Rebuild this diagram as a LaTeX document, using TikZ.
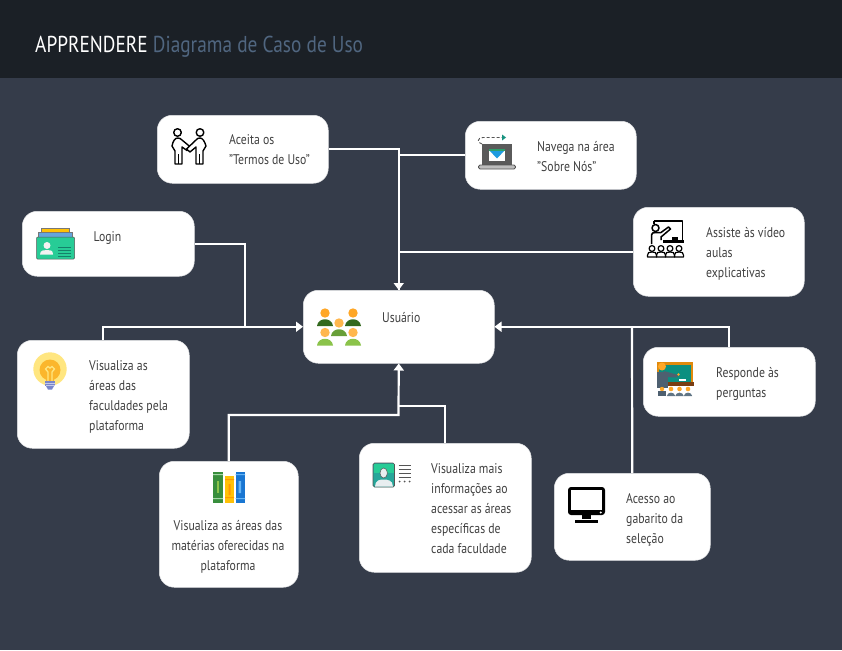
\documentclass[tikz,border=0pt]{standalone}
\usepackage{fontspec}
\setmainfont[FakeStretch=0.84]{PT Sans}
\usetikzlibrary{arrows.meta}
\definecolor{pagebg}{HTML}{353C4A}
\definecolor{headbg}{HTML}{1B2026}
\definecolor{subttl}{HTML}{506680}
\definecolor{txt}{HTML}{404040}
\newcommand{\defhex}[1]{\definecolor{c#1}{HTML}{#1}}
\defhex{5A5A5A}\defhex{1E9BE0}\defhex{2E9E6B}\defhex{555555}\defhex{BDBDBD}\defhex{17937F}\defhex{777777}
\defhex{FFC107}\defhex{64A5DC}\defhex{27CC96}\defhex{F2F2F2}\defhex{14806A}\defhex{FFA726}\defhex{33691E}
\defhex{FFB74D}\defhex{689F38}\defhex{8BC34A}\defhex{FFE680}\defhex{FBB62C}\defhex{7986CB}\defhex{C5CAE9}
\defhex{388E3C}\defhex{A5D6A7}\defhex{FF9800}\defhex{1976D2}\defhex{64B5F6}\defhex{26A69A}\defhex{E8EEF0}
\defhex{E08A0C}\defhex{0B8F80}\defhex{7A3E12}\defhex{4E6070}\defhex{607585}
\tikzset{
  x=1pt,y=-1pt,
  card/.style={draw=white!85!pagebg,line width=.5pt,fill=white,rounded corners=15pt,inner sep=0pt,anchor=north west},
  lbl/.style={text=txt,font=\fontsize{14}{20}\selectfont,align=left,anchor=north west,inner sep=0pt},
  clbl/.style={text=txt,font=\fontsize{14}{20}\selectfont,align=center,anchor=north,inner sep=0pt},
  link/.style={draw=white,line width=2.2pt,rounded corners=0pt},
  arrowlink/.style={link,-{Triangle[width=10pt,length=7pt]}},
}
\newcommand{\cardat}[5]{\node[card,minimum width=#4pt,minimum height=#5pt] (#1) at (#2,#3) {};}
\begin{document}
\begin{tikzpicture}
\useasboundingbox (0,0) rectangle (842,650);
\fill[pagebg] (0,0) rectangle (842,650);
\fill[headbg] (0,0) rectangle (842,78);
\node[anchor=base west,inner sep=0pt,font=\fontsize{23}{26}\selectfont] (title) at (35,53) {\textcolor{white}{APPRENDERE} \textcolor{subttl}{Diagrama de Caso de Uso}};

\coordinate (jlogin) at (245,326);
\coordinate (jmat) at (398.5,415);
\coordinate (jmais) at (398.5,406);
\coordinate (jac) at (632,326);

\cardat{termos}{157}{115}{171}{68}
\cardat{navega}{465}{121}{171}{68}
\cardat{assiste}{633}{207}{171}{89}
\cardat{login}{22}{211}{172}{65}
\cardat{user}{303}{290}{191}{73}
\cardat{visual}{17}{340}{172}{108}
\cardat{mater}{159}{461}{139}{126}
\cardat{mais}{359}{443}{172}{129}
\cardat{acesso}{554}{473}{156}{87}
\cardat{resp}{643}{347}{172}{69}

% connectors
\draw[link] (navega.west) -| (user.north);
\draw[link] (assiste.west) -| (user.north);
\draw[arrowlink] (termos.east) -| (user.north);
\draw[link] (login.east) -| (jlogin);
\draw[arrowlink] (visual.north) |- (user.west);
\draw[link] (mais.north) |- (jmais);
\draw[arrowlink] (mater.north) |- (jmat) -- (user.south);
\draw[link] (acesso.north) -- (jac);
\draw[arrowlink] (resp.north) |- (user.east);

% labels
\node[lbl] (t1) at (229,134.5) {Aceita os\\"Termos de Uso"};
\node[lbl] (t2) at (537,141) {Navega na área\\"Sobre Nós"};
\node[lbl] (t3) at (706,227) {Assiste às vídeo\\aulas\\explicativas};
\node[lbl] (t4) at (93.5,231) {Login};
\node[lbl] (t5) at (382,312) {Usuário};
\node[lbl] (t6) at (89,360) {Visualiza as\\áreas das\\faculdades pela\\plataforma};
\node[clbl] (t7) at (228,520) {Visualiza as áreas das\\matérias oferecidas na\\plataforma};
\node[lbl] (t8) at (431,463) {Visualiza mais\\informações ao\\acessar as áreas\\específicas de\\cada faculdade};
\node[lbl] (t9) at (626,493) {Acesso ao\\gabarito da\\seleção};
\node[lbl] (t10) at (716,367) {Responde às\\perguntas};

% handshake icon
\begin{scope}[line width=1.4pt,draw=black,fill=white,line join=round]
\draw (177.5,132.5) circle (3.8);
\draw (200,132.5) circle (3.8);
\draw (177.5,138) .. controls (175,138) and (173,141) .. (172,146) -- (175,151) -- (175,164) -- (182,164) -- (182,147) -- (187,150.5) -- (191,147.5) -- (182,140) .. controls (181,138.5) and (179,138) .. (177.5,138);
\draw[fill=white] (200,138) .. controls (202.5,138) and (204.5,141) .. (206,146) -- (203,151) -- (203,164) -- (196,164) -- (196,147) -- (190,152) -- (186.5,149) -- (196,140) .. controls (197,138.5) and (198.5,138) .. (200,138);
\draw (178.5,154) -- (178.5,164) (199.5,154) -- (199.5,164);
\end{scope}

% laptop icon
\fill[c5A5A5A] (482,144) rectangle (511.5,165);
\fill[white] (489,149) rectangle (505,161);
\fill[c1E9BE0] (489,150) -- (505,150) -- (497,158.5) -- cycle;
\fill[c2E9E6B] (489,149) rectangle (505,151);
\draw[c555555,line width=.8pt,rounded corners=1.5pt,fill=cBDBDBD] (478.5,165) rectangle (515.5,169);
\draw[c555555,line width=.9pt,densely dashed] (482,144) .. controls (477,143) and (477,137.5) .. (483,137.5) -- (502,137.5);
\fill[c17937F] (502,134.5) -- (506,137.5) -- (502,140.5) -- cycle;

% teacher icon
\begin{scope}[line width=1.5pt,draw=black,line join=round]
\draw (654,221) -- (682.5,221) -- (682.5,240);
\draw (654,221) -- (654,224);
\fill (662.5,239.5) rectangle (684,242.5);
\fill (672,236.5) rectangle (678,240);
\draw (655.5,228) circle (3.5);
\draw (651.5,244) -- (651.5,235) .. controls (651.5,233) and (653,232.5) .. (656,232.5) -- (661,232.5) -- (668.5,227) -- (670.5,229) -- (661,237) -- (661,240);
\foreach \xc in {652,661,670,679}{
  \draw[line width=1.2pt] (\xc,248.5) circle (2.9);
  \draw[line width=1.2pt] (\xc-4.6,257) -- (\xc-4.6,255.5) .. controls (\xc-4.6,252.5) and (\xc-3,252) .. (\xc,252) .. controls (\xc+3,252) and (\xc+4.6,252.5) .. (\xc+4.6,255.5) -- (\xc+4.6,257) -- cycle;
}
\end{scope}

% login card icon
\draw[c777777,line width=.5pt,fill=cFFC107] (41.5,228.5) rectangle (69,232.5);
\draw[c777777,line width=.5pt,fill=c64A5DC] (38,232.5) rectangle (72.5,237);
\draw[c555555,line width=.5pt,fill=c27CC96,rounded corners=1pt] (36.5,237) rectangle (74.5,259);
\fill[cF2F2F2] (40,254.5) .. controls (40,250) and (44,250) .. (47,250) .. controls (50,250) and (53,250) .. (53,254.5) -- cycle;
\fill[cF2F2F2] (47,245.5) circle (3.5);
\foreach \yy in {247,250,253,256}{\fill[c14806A] (58,\yy) rectangle (71,\yy+.9);}

% users icon
\newcommand{\person}[4]{%
  \fill[c#3] (#1,#2-13) circle (4.7);
  \fill[c#4] (#1-8,#2) .. controls (#1-7,#2-9) and (#1+7,#2-9) .. (#1+8,#2) -- cycle;}
\person{325}{326}{FFA726}{33691E}
\person{353}{326}{FFA726}{33691E}
\person{339}{336}{FFB74D}{689F38}
\person{325}{345.5}{FFB74D}{8BC34A}
\person{353}{345.5}{FFB74D}{8BC34A}

% light bulb icon
\fill[cFFE680] (50,369) circle (16.7);
\fill[cFBB62C] (50,370) circle (10.5);
\fill[cFBB62C] (46,378) rectangle (54,381);
\draw[cFFE680,line width=1.3pt] (48,381) -- (48,372) -- (45.5,369) -- (48,366.5) -- (50,368) -- (52,366.5) -- (54.5,369) -- (52,372) -- (52,381);
\fill[c7986CB] (45,381) rectangle (55,386);
\fill[c7986CB] (46,386) -- (54,386) -- (52,389.5) -- (48,389.5) -- cycle;
\draw[cC5CAE9,line width=.5pt] (45,383) -- (55,383) (45.5,385.5) -- (54.5,385.5);

% books icon
\fill[c388E3C] (213,471.5) rectangle (223,503);
\fill[cA5D6A7] (213,474) rectangle (223,475) (213,498) rectangle (223,499);
\fill[c8BC34A] (216.5,481) rectangle (218.5,493);
\fill[cFFC107] (225,476) rectangle (234,503);
\fill[cFF9800] (225,479) rectangle (234,480) (225,497) rectangle (234,498) (228.5,484) rectangle (230.5,495);
\fill[c1976D2] (235.5,471.5) rectangle (245,503);
\fill[c64B5F6] (235.5,474) rectangle (245,475) (235.5,498) rectangle (245,499) (238.5,481) rectangle (241,493);

% profile document icon
\draw[c555555,line width=.7pt,fill=c26A69A,rounded corners=1.5pt] (373,463) rectangle (394.5,487);
\fill[c27CC96] (373.5,463.5) rectangle (394,473);
\fill[cE8EEF0] (375,486.5) .. controls (375,480) and (380,479.5) .. (383.7,479.5) .. controls (387,479.5) and (393,480) .. (393,486.5) -- cycle;
\draw[c555555,line width=.5pt,fill=cE8EEF0] (383.7,473) ellipse (3.7 and 5);
\foreach \yy in {465.5,469.5,473.5,477.5}{\draw[c555555,line width=.6pt] (398.5,\yy) -- (411,\yy);}
\foreach \xc in {399.5,404.5,409.5}{\fill[c555555] (\xc,481.5) circle (1);}

% monitor icon
\fill[black,rounded corners=3pt] (568,487) rectangle (605,515);
\fill[white] (571,489.5) rectangle (602,510);
\fill[white] (600.7,512.5) circle (1.2);
\fill (582,514) rectangle (591,518.5);
\fill (575,520) rectangle (598,523);

% classroom icon
\fill[cE08A0C] (657,362) rectangle (693,385);
\fill[c0B8F80] (659,364.5) rectangle (691,383);
\fill[white] (679,378.5) rectangle (686,380.5);
\fill[c7A3E12] (667,382) rectangle (694,385.5);
\fill[cFFA726] (662,366.5) circle (4);
\fill[c4E6070] (657,372) rectangle (667.5,388);
\fill[c4E6070] (664,371) -- (678,375) -- (677,377.5) -- (664,377) -- cycle;
\fill[cFFA726] (678.5,374.5) circle (1.3);
\fill[cFFA726] (662,389) circle (2.2);
\fill[c4E6070] (658,391) rectangle (666,396);
\foreach \xc in {671,679.5,688}{
  \fill[cFFA726] (\xc,389) circle (2.3);
  \fill[c607585] (\xc-4.2,396) .. controls (\xc-3.5,391.5) and (\xc+3.5,391.5) .. (\xc+4.2,396) -- cycle;
}
\end{tikzpicture}
\end{document}
